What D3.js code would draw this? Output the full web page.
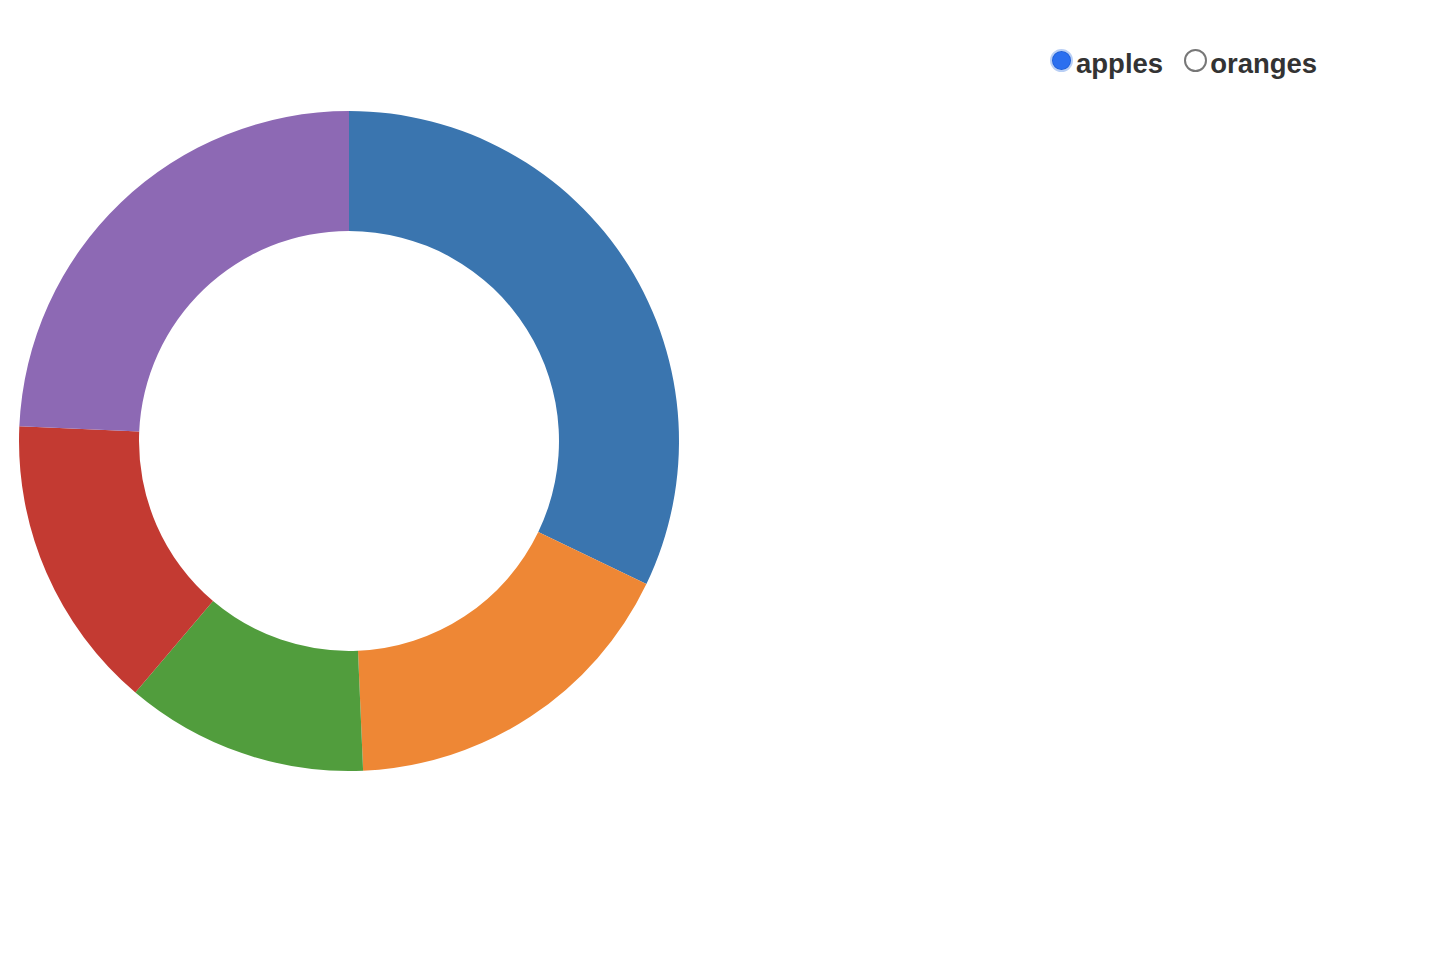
<!DOCTYPE html>
<html>
<head>
<meta charset="utf-8">
<script src="https://cdn.jsdelivr.net/npm/d3@7"></script>
<style>
body {
  margin: 0;
  background: #fff;
  font-family: "Liberation Sans", Arial, Helvetica, sans-serif;
  width: 1450px;
  height: 960px;
  position: relative;
  overflow: hidden;
}
form {
  position: absolute;
  left: 1050px;
  top: 48px;
  font-size: 27.5px;
  font-weight: bold;
  color: #333;
}
label {
  display: inline-flex;
  align-items: center;
  margin-right: 21px;
}
input[type=radio] {
  -webkit-appearance: none;
  appearance: none;
  width: 23px;
  height: 23px;
  margin: 0 3px 0 0;
  position: relative;
  top: -4px;
  border-radius: 50%;
  border: 2px solid #777;
  background: #fff;
  box-sizing: border-box;
}
input[type=radio]:checked {
  border: 2px solid #b9cff5;
  background: radial-gradient(circle, #2b6fef 0 8px, #1e5fd8 9px);
}
</style>
</head>
<body>
<form></form>
<div id="chart"></div>
<script>
// two series, five slices each
const keys = ["apples", "oranges"];
const apples = [53245, 28479, 19697, 24037, 40245];
const oranges = [200, 200, 200, 200, 200];
const colors = ["#3a75af", "#ee8735", "#519d3d", "#c33a32", "#8d69b4"];

const dataset = {apples: apples, oranges: oranges};

const width = 700, height = 900;
const outer = 330, inner = 210;

const color = d3.scaleOrdinal().domain(d3.range(5)).range(colors);

const pie = d3.pie().sort(null);
const arc = d3.arc().innerRadius(inner).outerRadius(outer);

const svg = d3.select("#chart").append("svg")
    .attr("width", width)
    .attr("height", height)
    .style("position", "absolute")
    .style("left", "0px")
    .style("top", "0px");

const g = svg.append("g").attr("transform", `translate(349,441)`);

let path = g.selectAll("path")
    .data(pie(dataset.apples))
    .enter().append("path")
    .attr("fill", (d, i) => color(i))
    .attr("d", arc);

const labels = d3.select("form").selectAll("label")
    .data(keys)
    .enter().append("label");

labels.append("input")
    .attr("type", "radio")
    .attr("name", "dataset")
    .attr("value", d => d)
    .property("checked", (d, i) => i === 0)
    .on("change", change);

labels.append("span").text(d => d);

function change(event, key) {
    path = path.data(pie(dataset[key]));
    path.attr("d", arc);
}
</script>
</body>
</html>
